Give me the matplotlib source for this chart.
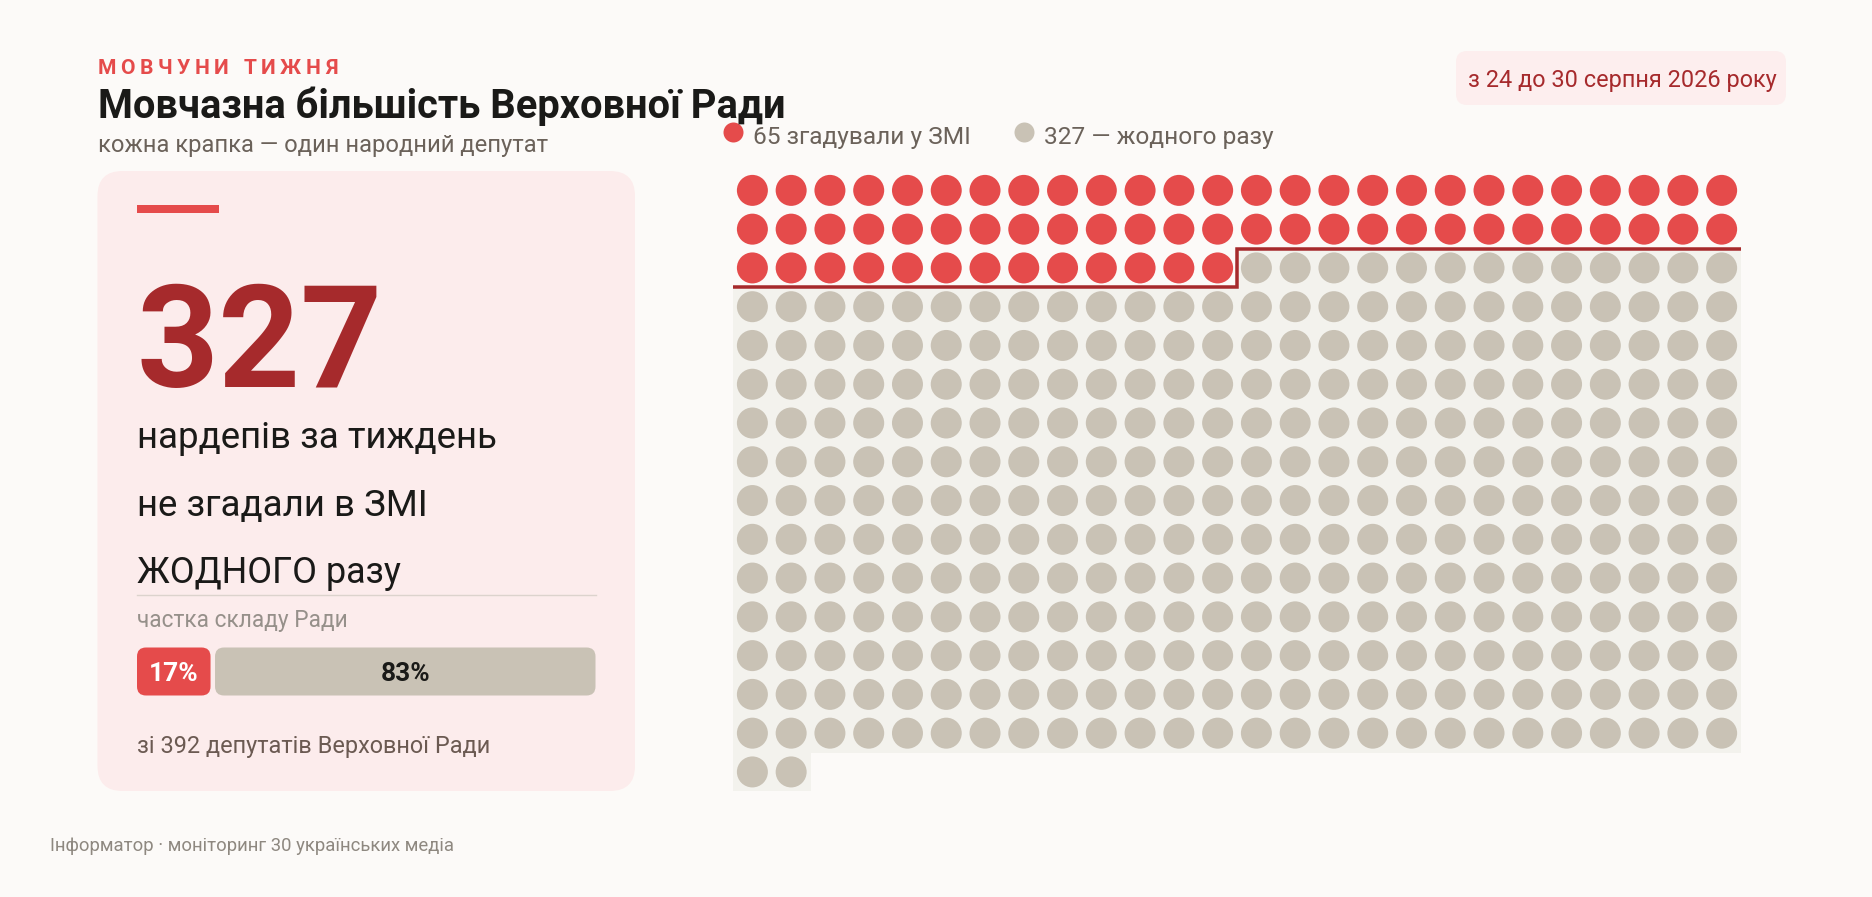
import matplotlib
matplotlib.use('Agg')
import matplotlib.pyplot as plt
from matplotlib.patches import FancyBboxPatch, Rectangle
from matplotlib.font_manager import FontProperties
from matplotlib.textpath import TextToPath

plt.rcParams['font.family'] = ['Roboto', 'DejaVu Sans']

# data
total_mps = 392
mentioned = 65
silent = 327
columns = 26
share_labels = ['17%', '83%']
headline_number = '327'
card_lines = ['нардепів за тиждень', 'не згадали в ЗМІ', 'ЖОДНОГО разу']
legend_labels = ['65 згадували у ЗМІ', '327 — жодного разу']

# colours
BG = '#FCFAF8'
CARD = '#FCECEC'
RED = '#E54B4B'
DARK_RED = '#A62A2C'
GREY = '#C9C2B5'
CELL = '#F3F2ED'
INK = '#1A1A18'
MUTED = '#6B625A'
SOFT = '#96908A'

W, H = 1872, 897
fig = plt.figure(figsize=(W / 100, H / 100), dpi=100, facecolor=BG)

# full canvas in pixels, y goes down
ax = fig.add_axes([0, 0, 1, 1])
ax.set_xlim(0, W)
ax.set_ylim(H, 0)
ax.axis('off')


def px(size):
    return size * 0.72


def box(x0, y0, x1, y1, radius, color):
    ax.add_patch(FancyBboxPatch((x0 + radius, y0 + radius), x1 - x0 - 2 * radius, y1 - y0 - 2 * radius,
                                boxstyle='round,pad=%f,rounding_size=%f' % (radius, radius),
                                fc=color, ec='none', lw=0))


def spaced_text(x, y, s, size, spacing, color, weight):
    # matplotlib has no letter spacing, so place the letters one by one
    prop = FontProperties(family='Roboto', weight=weight, size=px(size))
    ttp = TextToPath()
    for i, ch in enumerate(s):
        w = ttp.get_text_width_height_descent(s[:i], prop, False)[0] if i else 0
        ax.text(x + w * 100 / 72 + i * spacing, y, ch, fontproperties=prop, color=color, va='baseline')


# header
spaced_text(97.5, 74, 'МОВЧУНИ ТИЖНЯ', 21, 4.6, RED, 'bold')
ax.text(97.5, 118, 'Мовчазна більшість Верховної Ради', fontsize=px(39.9), fontweight='bold', color=INK, va='baseline')
ax.text(97.5, 152, 'кожна крапка — один народний депутат', fontsize=px(23.7), color=MUTED, va='baseline')

# date pill
box(1456, 51, 1786, 105, 11, '#FDEEEE')
ax.text(1622, 87, 'з 24 до 30 серпня 2026 року', fontsize=px(23.5), color=DARK_RED, ha='center', va='baseline')

# legend
ax.scatter([733], [132.5], s=px(20) ** 2, color=RED, linewidths=0)
ax.text(753, 144, legend_labels[0], fontsize=px(24.5), color=MUTED, va='baseline')
ax.scatter([1024], [132.5], s=px(20) ** 2, color=GREY, linewidths=0)
ax.text(1043.5, 144, legend_labels[1], fontsize=px(24.5), color=MUTED, va='baseline')

# left card
box(97.5, 171, 635, 791, 25, CARD)
ax.add_patch(Rectangle((137, 205), 82, 8, fc=RED, ec='none'))
ax.text(136.5, 387.5, headline_number, fontsize=px(143), fontweight='bold', color=DARK_RED, va='baseline')
for line, base, size in zip(card_lines, [448, 516, 583], [36.6, 36.6, 36]):
    ax.text(137, base, line, fontsize=px(size), color=INK, va='baseline')
ax.plot([137, 596], [595.5, 595.5], color='#DCD3CD', lw=1)
ax.text(137, 627, 'частка складу Ради', fontsize=px(22.6), color=SOFT, va='baseline')

# share bar, scaled on the number of deputies
bar_x0, bar_x1 = 137, 595.5
split = bar_x0 + (bar_x1 - bar_x0) * mentioned / total_mps
box(bar_x0, 647.5, split - 2.5, 695.5, 9, RED)
box(split + 2, 647.5, bar_x1, 695.5, 9, GREY)
ax.text((bar_x0 + split - 2.5) / 2, 681, share_labels[0], fontsize=px(26.3), fontweight='bold', color='white',
        ha='center', va='baseline')
ax.text((split + 2 + bar_x1) / 2, 681, share_labels[1], fontsize=px(26.3), fontweight='bold', color=INK,
        ha='center', va='baseline')
ax.text(137, 753, 'зі 392 депутатів Верховної Ради', fontsize=px(23.5), color='#6B5A52', va='baseline')

# footer
ax.text(50, 851, 'Інформатор · моніторинг 30 українських медіа', fontsize=px(18.5), color='#8E8880', va='baseline')

# waffle: one cell per deputy
rows = total_mps // columns + (1 if total_mps % columns else 0)
grid_left, grid_top, cell_size = 733, 171, 38.77
wax = fig.add_axes([grid_left / W, 1 - (grid_top + rows * cell_size) / H,
                    columns * cell_size / W, rows * cell_size / H])
wax.set_xlim(0, columns)
wax.set_ylim(rows, 0)
wax.axis('off')
wax.patch.set_alpha(0)

xs = [i % columns + 0.5 for i in range(total_mps)]
ys = [i // columns + 0.5 for i in range(total_mps)]
colors = [RED] * mentioned + [GREY] * silent

# grey background behind the silent ones, one strip per row
for r in range(rows):
    first = max(mentioned - r * columns, 0)
    last = min(total_mps - r * columns, columns)
    if last > first:
        wax.add_patch(Rectangle((first, r), last - first, 1, fc=CELL, ec='none', lw=0, zorder=1))

wax.scatter(xs, ys, s=px(31) ** 2, c=colors, linewidths=0, zorder=2)

# step line between mentioned and silent
full_rows = mentioned // columns
rest = mentioned % columns
wax.plot([0, rest, rest, columns], [full_rows + 1, full_rows + 1, full_rows, full_rows],
         color=DARK_RED, lw=px(3.5), solid_joinstyle='miter', solid_capstyle='butt', zorder=3)

fig.savefig('out.png', dpi=100, facecolor=BG)
